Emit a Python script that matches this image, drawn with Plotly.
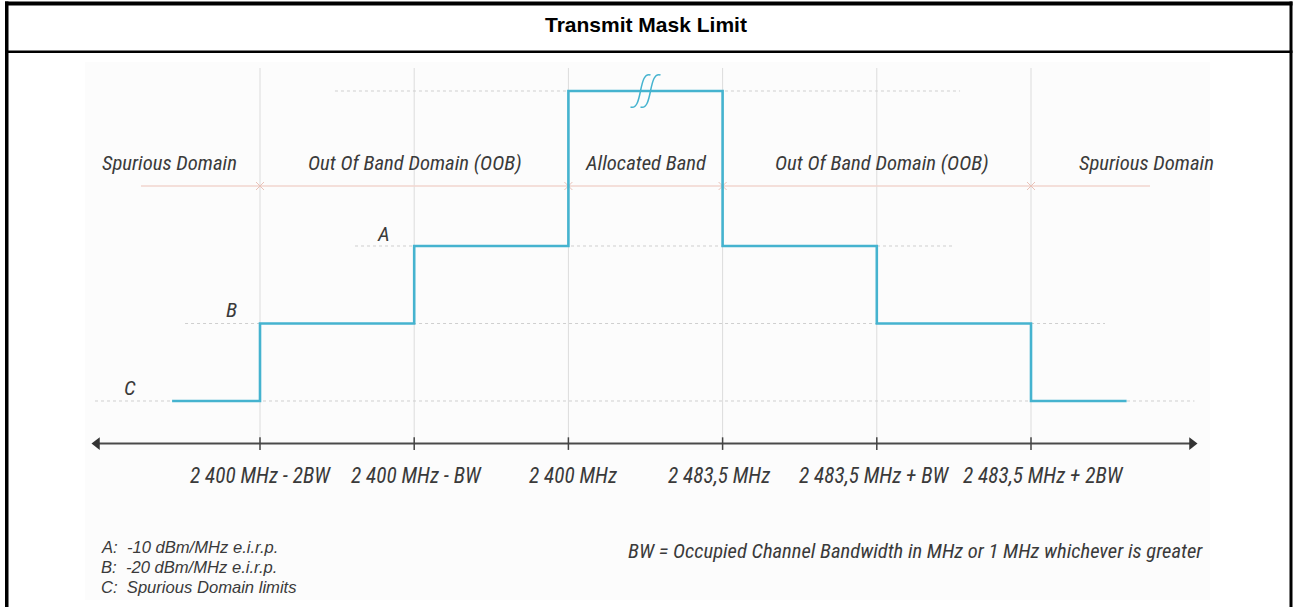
import plotly.graph_objects as go

# ---------------- data ----------------
boundary_pos = [1, 2, 3, 4, 5, 6]
boundary_labels = ["2 400 MHz - 2BW", "2 400 MHz - BW", "2 400 MHz",
                   "2 483,5 MHz", "2 483,5 MHz + BW", "2 483,5 MHz + 2BW"]

# limit levels (dBm/MHz e.i.r.p.; allocated band drawn off-scale, C drawn symbolic)
level_names = ["Allocated", "A", "B", "C"]
level_values = [10, -10, -20, -30]

# step mask (hv steps)
mask_x = [0.43, 1, 2, 3, 4, 5, 6, 6.62]
mask_y = [-30, -20, -10, 10, -10, -20, -30, -30]

domain_names = ["Spurious Domain", "Out Of Band Domain (OOB)", "Allocated Band",
                "Out Of Band Domain (OOB)", "Spurious Domain"]
domain_centers = [0.41, 2.005, 3.503, 5.034, 6.746]
domain_edges = [1, 3, 4, 6]

legend_notes = ["A:  -10 dBm/MHz e.i.r.p.", "B:  -20 dBm/MHz e.i.r.p.",
                "C:  Spurious Domain limits"]
bw_note = "BW = Occupied Channel Bandwidth in MHz or 1 MHz whichever is greater"
title_text = "Transmit Mask Limit"

# dotted guide extents per level [x0, x1]
guide_extent = {10: (1.486, 5.54), -10: (1.616, 5.49), -20: (0.514, 6.48), -30: (-0.07, 7.06)}

# ---------------- layout constants ----------------
W, H = 1293, 607
PXX = 154.2   # px per boundary step
PXY = 7.75    # px per dB
X0 = 1 - 260 / PXX
X1 = X0 + W / PXX
Y1 = -10 + 246 / PXY
Y0 = Y1 - H / PXY
AXIS_Y = -35.5
DOMAIN_Y = -2.26
DOMAIN_LABEL_Y = 0.71
TICKLABEL_Y = -39.6
VTOP = 12.97
label_nudge_px = [0, 2, 5, -4, -3, 12]

TEAL = "#45b3cf"
TXT = "#3a3a3a"
FONT = "Liberation Sans Narrow, Arial Narrow, Roboto Condensed, Liberation Sans, Arial"
fnt = dict(family=FONT, size=21, color=TXT, style="italic")

fig = go.Figure()
shapes = []
annotations = []

# light background of the scanned drawing
shapes.append(dict(type="rect", xref="x", yref="y", x0=X0 + 85 / PXX, x1=X0 + 1210 / PXX,
                   y0=Y1 - 600 / PXY, y1=Y1 - 62 / PXY, fillcolor="#fcfcfc",
                   line=dict(width=0), layer="below"))

# vertical guides
for p in boundary_pos:
    shapes.append(dict(type="line", xref="x", yref="y", x0=p, x1=p, y0=AXIS_Y, y1=VTOP,
                       line=dict(color="#dcdcdc", width=1), layer="below"))

# horizontal dotted guides
for v in level_values:
    a, b = guide_extent[v]
    shapes.append(dict(type="line", xref="x", yref="y", x0=a, x1=b, y0=v, y1=v,
                       line=dict(color="#cfcfcf", width=1, dash="dot"), layer="below"))

# domain line
shapes.append(dict(type="line", xref="x", yref="y", x0=0.228, x1=6.772, y0=DOMAIN_Y, y1=DOMAIN_Y,
                   line=dict(color="#f2d6cf", width=1.5), layer="below"))
fig.add_trace(go.Scatter(x=domain_edges, y=[DOMAIN_Y] * len(domain_edges), mode="markers",
                         marker=dict(symbol="x-thin", size=8, line=dict(color="#e9c2b8", width=1)),
                         hoverinfo="skip", showlegend=False))

# frequency axis with arrows
fig.add_trace(go.Scatter(x=[X0 + 95 / PXX, X0 + 1194 / PXX], y=[AXIS_Y, AXIS_Y], mode="lines",
                         line=dict(color="#4a4a4a", width=2), hoverinfo="skip", showlegend=False))
fig.add_trace(go.Scatter(x=[X0 + 97 / PXX], y=[AXIS_Y], mode="markers",
                         marker=dict(symbol="triangle-left", size=11, color="#333"),
                         hoverinfo="skip", showlegend=False))
fig.add_trace(go.Scatter(x=[X0 + 1192 / PXX], y=[AXIS_Y], mode="markers",
                         marker=dict(symbol="triangle-right", size=11, color="#333"),
                         hoverinfo="skip", showlegend=False))
fig.add_trace(go.Scatter(x=boundary_pos, y=[AXIS_Y] * len(boundary_pos), mode="markers",
                         marker=dict(symbol="line-ns", size=9, line=dict(color="#444", width=1.5)),
                         hoverinfo="skip", showlegend=False))

# mask
fig.add_trace(go.Scatter(x=mask_x, y=mask_y, mode="lines", line=dict(color=TEAL, width=2.6, shape="hv"),
                         hoverinfo="skip", showlegend=False))

# break symbol on allocated band
cx = (boundary_pos[2] + boundary_pos[3]) / 2
top = level_values[0]
def pt(dx, dy):
    return f"{cx + dx / PXX},{top - dy / PXY}"
for off in (-5, 5):
    path = ("M " + pt(off + 10, -16) + " C " + pt(off + 4, -18) + " " + pt(off + 2, -10) + " " + pt(off, 0)
            + " C " + pt(off - 2, 10) + " " + pt(off - 4, 18) + " " + pt(off - 10, 16))
    shapes.append(dict(type="path", xref="x", yref="y", path=path, line=dict(color=TEAL, width=1.5)))

# domain labels
for name, c in zip(domain_names, domain_centers):
    annotations.append(dict(x=c, y=DOMAIN_LABEL_Y, xref="x", yref="y", text=name, showarrow=False,
                            xanchor="center", yanchor="middle", font=dict(fnt, size=20.7)))
# level letters
for name, x, y in zip(["A", "B", "C"], [1.804, 0.818, 0.157], [-8.45, -18.26, -28.3]):
    annotations.append(dict(x=x, y=y, xref="x", yref="y", text=name, showarrow=False,
                            xanchor="center", yanchor="middle", font=fnt))

# tick labels
for p, lab, nd in zip(boundary_pos, boundary_labels, label_nudge_px):
    annotations.append(dict(x=p + nd / PXX, y=TICKLABEL_Y, xref="x", yref="y", text=lab, showarrow=False,
                            xanchor="center", yanchor="middle", font=dict(fnt, size=21.3)))

# notes (regular-width face so the 20 px line pitch does not make text boxes collide)
for i, note in enumerate(legend_notes):
    annotations.append(dict(x=99 / W, y=1 - (547 + 20 * i) / H, xref="paper", yref="paper", text=note,
                            xanchor="left", yanchor="middle", showarrow=False,
                            font=dict(family="Liberation Sans, Arial", size=16.6, color=TXT, style="italic")))
annotations.append(dict(x=915 / W, y=1 - 551 / H, xref="paper", yref="paper", text=bw_note,
                        xanchor="center", yanchor="middle", showarrow=False, font=dict(fnt, size=20.6)))

# title
annotations.append(dict(x=646 / W, y=1 - 25 / H, xref="paper", yref="paper", text="<b>" + title_text + "</b>",
                        xanchor="center", yanchor="middle", showarrow=False,
                        font=dict(family="Liberation Sans Narrow, Arial Narrow, Liberation Sans, Arial",
                                  size=21, color="black")))

# frame
for (xa, xb, ya, yb) in [(5, 1292.5, 1.5, 5.5), (5, 8.5, 1.5, H), (1289.5, 1292.5, 1.5, H), (5, 1292.5, 50.5, 53)]:
    shapes.append(dict(type="rect", xref="paper", yref="paper", x0=xa / W, x1=xb / W,
                       y0=1 - yb / H, y1=1 - ya / H, fillcolor="black", line=dict(width=0)))

fig.update_layout(width=W, height=H, margin=dict(l=0, r=0, t=0, b=0),
                  paper_bgcolor="white", plot_bgcolor="white",
                  xaxis=dict(range=[X0, X1], visible=False, fixedrange=True),
                  yaxis=dict(range=[Y0, Y1], visible=False, fixedrange=True),
                  shapes=shapes, annotations=annotations, showlegend=False)
fig.write_html("out.html", config={"displayModeBar": False},
               post_script="document.body.style.margin='0';document.body.style.overflow='hidden';")
